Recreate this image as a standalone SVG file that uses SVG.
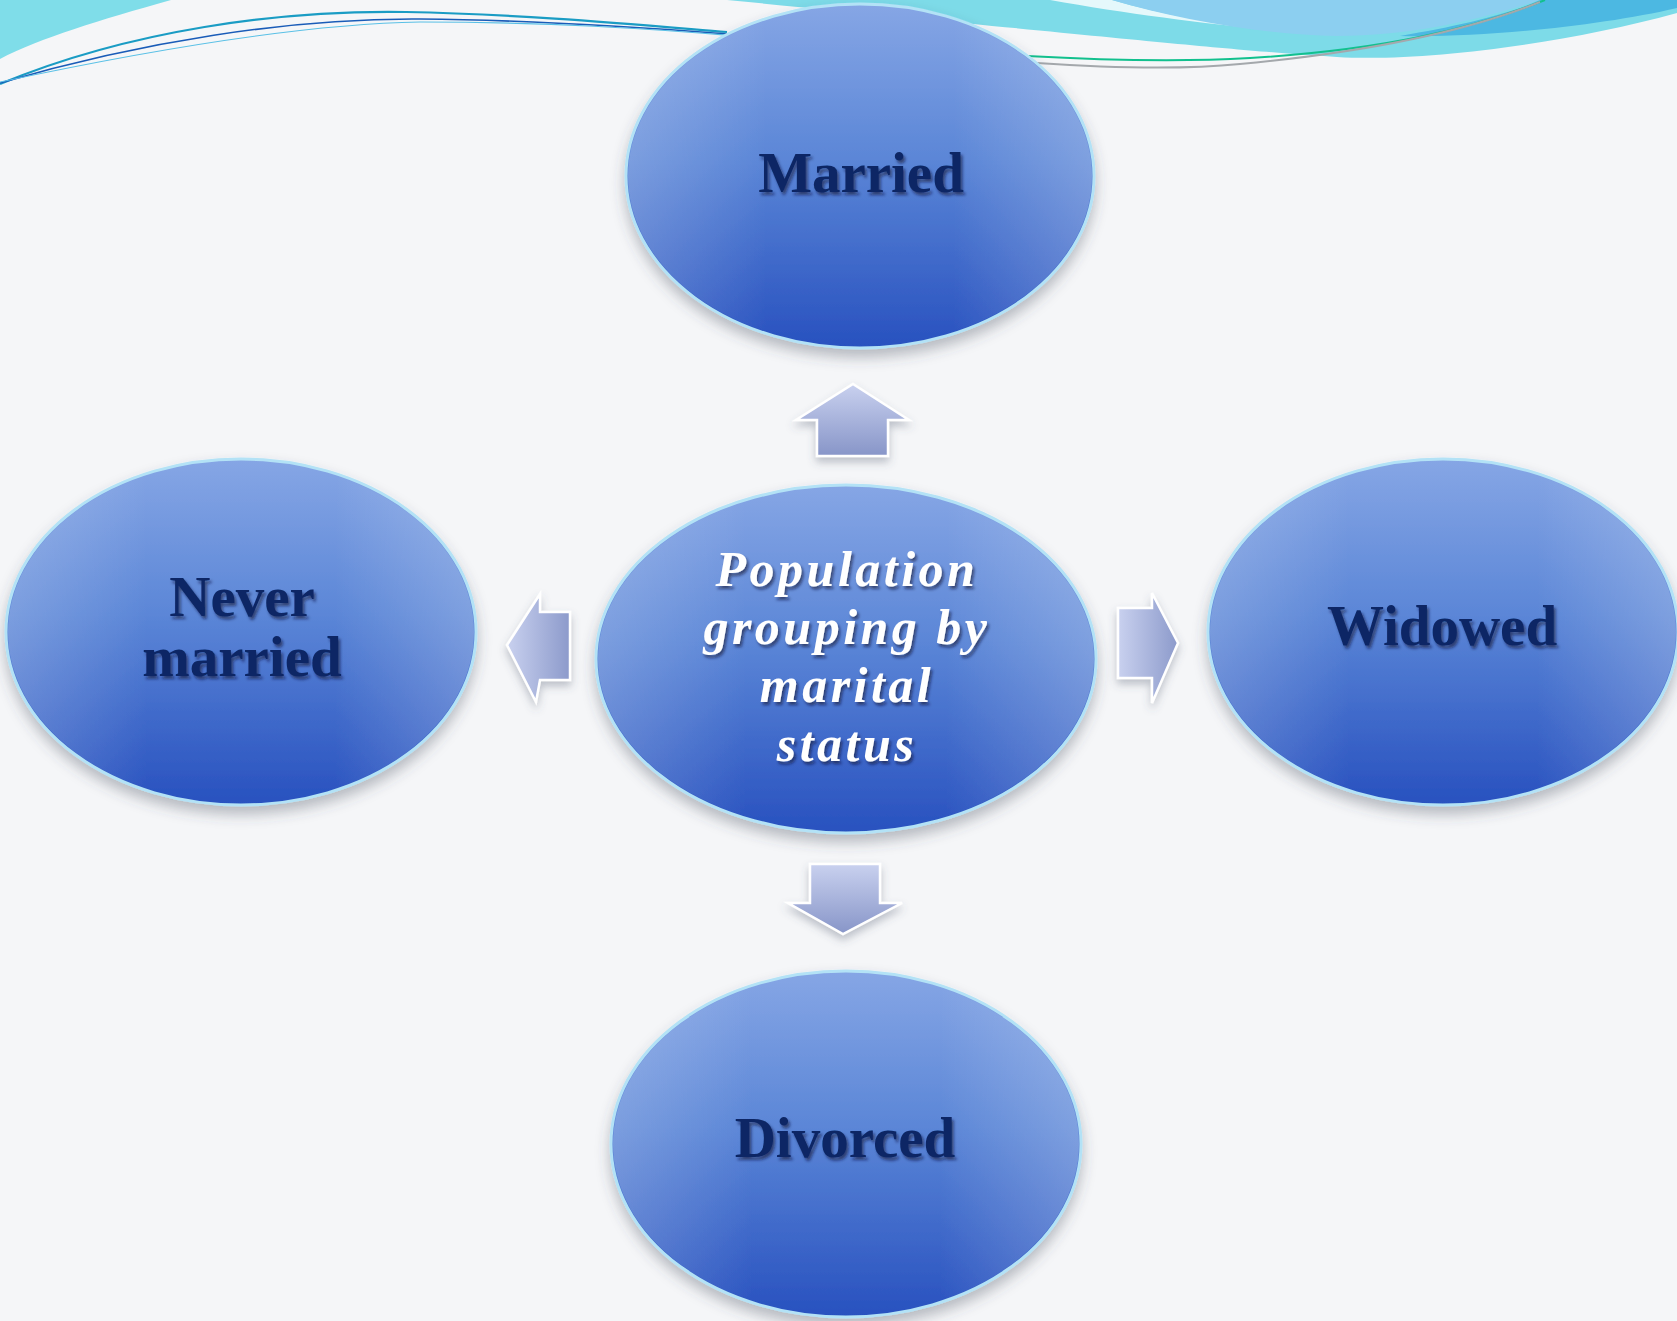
<svg xmlns="http://www.w3.org/2000/svg" width="1677" height="1321" viewBox="0 0 1677 1321">
<defs>
<linearGradient id="ellG" x1="0" y1="0" x2="0" y2="1">
<stop offset="0" stop-color="#86a6e5"/>
<stop offset="0.45" stop-color="#5b86d7"/>
<stop offset="1" stop-color="#2851bf"/>
</linearGradient>
<linearGradient id="ellH" x1="0" y1="0" x2="1" y2="0">
<stop offset="0" stop-color="#ffffff" stop-opacity="0.2"/>
<stop offset="0.3" stop-color="#ffffff" stop-opacity="0"/>
<stop offset="0.7" stop-color="#ffffff" stop-opacity="0"/>
<stop offset="1" stop-color="#ffffff" stop-opacity="0.22"/>
</linearGradient>
<linearGradient id="arrG" x1="0" y1="0" x2="0" y2="1">
<stop offset="0" stop-color="#c9d1ef"/>
<stop offset="1" stop-color="#8795c8"/>
</linearGradient>
<linearGradient id="arrGH" x1="0" y1="0" x2="1" y2="0">
<stop offset="0" stop-color="#c9d1ef"/>
<stop offset="1" stop-color="#8c9acb"/>
</linearGradient>
<filter id="shadow" x="-20%" y="-20%" width="140%" height="150%">
<feGaussianBlur in="SourceAlpha" stdDeviation="7"/>
<feOffset dy="8" result="b"/>
<feFlood flood-color="#404858" flood-opacity="0.35"/>
<feComposite in2="b" operator="in"/>
<feMerge><feMergeNode/><feMergeNode in="SourceGraphic"/></feMerge>
</filter>
<filter id="tshadow" x="-10%" y="-20%" width="120%" height="150%">
<feDropShadow dx="2" dy="3" stdDeviation="1.6" flood-color="#0a1430" flood-opacity="0.6"/>
</filter>
<filter id="ashadow" x="-30%" y="-30%" width="160%" height="170%">
<feDropShadow dx="0" dy="5" stdDeviation="4" flood-color="#505870" flood-opacity="0.35"/>
</filter>
<style>
.ell{fill:url(#ellG);stroke:#b3e2f6;stroke-width:3}
.ov{fill:url(#ellH);stroke:none}
.lbl{font-family:"Liberation Serif","Times New Roman",serif;font-weight:bold;font-size:57px;fill:#0c2765;text-anchor:middle}
.ctr{font-family:"Liberation Serif","Times New Roman",serif;font-style:italic;font-weight:bold;font-size:50px;fill:#ffffff;text-anchor:middle;letter-spacing:3.5px}
.arr{stroke:#ffffff;stroke-width:2.5;stroke-linejoin:miter}
</style>
</defs>
<rect width="1677" height="1321" fill="#f5f6f8"/>
<g id="banner">
<path d="M0,0 L171,0 C100,20 40,38 0,59 Z" fill="#7fdde9"/>
<path d="M727,0 L1677,0 L1677,13 C1560,45 1420,62 1337,57 C1230,50 1140,40 727,0 Z" fill="#7ddbe8"/>
<path d="M1050,0 L1112,0 C1180,20 1260,30 1337,36 C1260,30 1150,18 1050,0 Z" fill="#ffffff" opacity="0.8"/>
<path d="M1112,0 L1540,0 C1480,20 1410,36 1337,36 C1260,34 1180,20 1112,0 Z" fill="#8ccff0"/>
<path d="M1540,0 L1677,0 L1677,8 C1600,26 1480,38 1400,36 C1460,26 1510,14 1540,0 Z" fill="#4cb8e2"/>
<path d="M0,84 C130,30 280,10 406,12 C520,14 640,25 727,32" fill="none" stroke="#1a9cc4" stroke-width="2.2"/>
<path d="M0,83 C140,42 290,18 420,19 C540,20 650,28 727,34" fill="none" stroke="#1a5cb8" stroke-width="1.6"/>
<path d="M0,82 C150,50 300,24 420,22 C560,22 660,30 727,35" fill="none" stroke="#5ac0e6" stroke-width="1.2"/>
<path d="M1027,56 C1100,60 1180,62 1250,58 C1380,50 1470,30 1545,0" fill="none" stroke="#12c08e" stroke-width="2"/>
<path d="M1037,63 C1110,68 1180,70 1240,64 C1370,52 1470,30 1540,2" fill="none" stroke="#a4a8ac" stroke-width="2"/>
</g>
<g id="connectors">
<g filter="url(#ashadow)">
<path class="arr" fill="url(#arrG)" d="M853,384 L909,420 L888,420 L888,456 L817,456 L817,420 L796,420 Z"/>
<path class="arr" fill="url(#arrG)" d="M810,864 L880,864 L880,903 L902,903 L843,934 L788,903 L810,903 Z"/>
<path class="arr" fill="url(#arrGH)" d="M507,645 L540,594 L540,612 L570,612 L570,680 L540,680 L536,702 Z"/>
<path class="arr" fill="url(#arrGH)" d="M1178,643 L1152,593 L1152,608 L1118,608 L1118,678 L1152,678 L1152,703 Z"/>
</g>
</g>
<g id="node-married" filter="url(#shadow)">
<ellipse class="ell" cx="860" cy="176" rx="234" ry="172"/>
<ellipse class="ov" cx="860" cy="176" rx="232" ry="170"/>
<text class="lbl" x="861" y="192" filter="url(#tshadow)">Married</text>
</g>
<g id="node-never-married" filter="url(#shadow)">
<ellipse class="ell" cx="241" cy="632" rx="235" ry="173"/>
<ellipse class="ov" cx="241" cy="632" rx="233" ry="171"/>
<text class="lbl" x="242" y="616" filter="url(#tshadow)">Never</text>
<text class="lbl" x="242" y="676" filter="url(#tshadow)">married</text>
</g>
<g id="node-widowed" filter="url(#shadow)">
<ellipse class="ell" cx="1443" cy="632" rx="235" ry="173"/>
<ellipse class="ov" cx="1443" cy="632" rx="233" ry="171"/>
<text class="lbl" x="1442" y="645" filter="url(#tshadow)">Widowed</text>
</g>
<g id="node-divorced" filter="url(#shadow)">
<ellipse class="ell" cx="846" cy="1144" rx="235" ry="173"/>
<ellipse class="ov" cx="846" cy="1144" rx="233" ry="171"/>
<text class="lbl" x="845" y="1157" filter="url(#tshadow)">Divorced</text>
</g>
<g id="node-center" filter="url(#shadow)">
<ellipse class="ell" cx="846" cy="659" rx="250" ry="174"/>
<ellipse class="ov" cx="846" cy="659" rx="248" ry="172"/>
<g filter="url(#tshadow)">
<text class="ctr" x="847" y="586">Population</text>
<text class="ctr" x="847" y="644">grouping by</text>
<text class="ctr" x="847" y="702">marital</text>
<text class="ctr" x="847" y="761">status</text>
</g>
</g>
</svg>
